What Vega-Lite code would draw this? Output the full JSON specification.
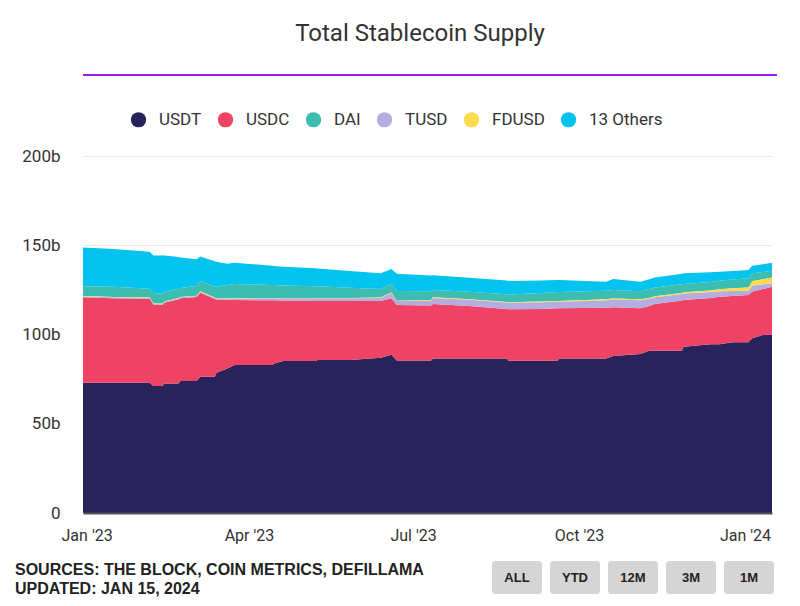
{
  "$schema": "https://vega.github.io/schema/vega-lite/v6.json",
  "padding": {"left": 15, "top": 22, "right": 0, "bottom": 0},
  "background": "white",
  "config": {"view": {"stroke": null}, "font": "Roboto"},
  "resolve": {"scale": {"color": "independent", "x": "independent"}, "legend": {"color": "independent"}},
  "vconcat": [
    {
      "width": 694,
      "height": 2,
      "view": {"fill": "#9a1bf0", "stroke": null},
      "data": {"values": [{"title": "Total Stablecoin Supply"}]},
      "mark": {"type": "text", "font": "Roboto", "fontSize": 24, "color": "#333333", "dx": -10, "dy": -41},
      "encoding": {"text": {"field": "title"}}
    },
    {
      "width": 689,
      "height": 357,
      "data": {"values": [
        {"date":"2022-12-30","coin":"USDT","supply":73.0},{"date":"2022-12-30","coin":"USDC","supply":47.8},{"date":"2022-12-30","coin":"DAI","supply":5.6},{"date":"2022-12-30","coin":"TUSD","supply":0.5},{"date":"2022-12-30","coin":"FDUSD","supply":0.2},{"date":"2022-12-30","coin":"13 Others","supply":21.7},
        {"date":"2023-01-16","coin":"USDT","supply":73.0},{"date":"2023-01-16","coin":"USDC","supply":47.3},{"date":"2023-01-16","coin":"DAI","supply":5.7},{"date":"2023-01-16","coin":"TUSD","supply":0.5},{"date":"2023-01-16","coin":"FDUSD","supply":0.2},{"date":"2023-01-16","coin":"13 Others","supply":21.2},
        {"date":"2023-02-05","coin":"USDT","supply":73.0},{"date":"2023-02-05","coin":"USDC","supply":47.0},{"date":"2023-02-05","coin":"DAI","supply":5.0},{"date":"2023-02-05","coin":"TUSD","supply":0.5},{"date":"2023-02-05","coin":"FDUSD","supply":0.2},{"date":"2023-02-05","coin":"13 Others","supply":20.7},
        {"date":"2023-02-07","coin":"USDT","supply":71.1},{"date":"2023-02-07","coin":"USDC","supply":45.7},{"date":"2023-02-07","coin":"DAI","supply":5.7},{"date":"2023-02-07","coin":"TUSD","supply":0.5},{"date":"2023-02-07","coin":"FDUSD","supply":0.2},{"date":"2023-02-07","coin":"13 Others","supply":21.1},
        {"date":"2023-02-12","coin":"USDT","supply":71.1},{"date":"2023-02-12","coin":"USDC","supply":45.4},{"date":"2023-02-12","coin":"DAI","supply":5.6},{"date":"2023-02-12","coin":"TUSD","supply":0.5},{"date":"2023-02-12","coin":"FDUSD","supply":0.2},{"date":"2023-02-12","coin":"13 Others","supply":21.4},
        {"date":"2023-02-13","coin":"USDT","supply":72.6},{"date":"2023-02-13","coin":"USDC","supply":45.2},{"date":"2023-02-13","coin":"DAI","supply":5.4},{"date":"2023-02-13","coin":"TUSD","supply":0.5},{"date":"2023-02-13","coin":"FDUSD","supply":0.2},{"date":"2023-02-13","coin":"13 Others","supply":20.4},
        {"date":"2023-02-21","coin":"USDT","supply":72.6},{"date":"2023-02-21","coin":"USDC","supply":47.2},{"date":"2023-02-21","coin":"DAI","supply":5.2},{"date":"2023-02-21","coin":"TUSD","supply":0.5},{"date":"2023-02-21","coin":"FDUSD","supply":0.2},{"date":"2023-02-21","coin":"13 Others","supply":17.7},
        {"date":"2023-02-22","coin":"USDT","supply":74.0},{"date":"2023-02-22","coin":"USDC","supply":46.3},{"date":"2023-02-22","coin":"DAI","supply":5.0},{"date":"2023-02-22","coin":"TUSD","supply":0.5},{"date":"2023-02-22","coin":"FDUSD","supply":0.2},{"date":"2023-02-22","coin":"13 Others","supply":17.1},
        {"date":"2023-03-03","coin":"USDT","supply":74.0},{"date":"2023-03-03","coin":"USDC","supply":47.0},{"date":"2023-03-03","coin":"DAI","supply":5.5},{"date":"2023-03-03","coin":"TUSD","supply":0.5},{"date":"2023-03-03","coin":"FDUSD","supply":0.2},{"date":"2023-03-03","coin":"13 Others","supply":15.0},
        {"date":"2023-03-05","coin":"USDT","supply":76.4},{"date":"2023-03-05","coin":"USDC","supply":47.0},{"date":"2023-03-05","coin":"DAI","supply":5.6},{"date":"2023-03-05","coin":"TUSD","supply":0.6},{"date":"2023-03-05","coin":"FDUSD","supply":0.2},{"date":"2023-03-05","coin":"13 Others","supply":13.9},
        {"date":"2023-03-13","coin":"USDT","supply":76.4},{"date":"2023-03-13","coin":"USDC","supply":43.6},{"date":"2023-03-13","coin":"DAI","supply":6.2},{"date":"2023-03-13","coin":"TUSD","supply":0.5},{"date":"2023-03-13","coin":"FDUSD","supply":0.2},{"date":"2023-03-13","coin":"13 Others","supply":14.1},
        {"date":"2023-03-14","coin":"USDT","supply":78.6},{"date":"2023-03-14","coin":"USDC","supply":40.9},{"date":"2023-03-14","coin":"DAI","supply":6.5},{"date":"2023-03-14","coin":"TUSD","supply":0.5},{"date":"2023-03-14","coin":"FDUSD","supply":0.2},{"date":"2023-03-14","coin":"13 Others","supply":14.1},
        {"date":"2023-03-20","coin":"USDT","supply":81.0},{"date":"2023-03-20","coin":"USDC","supply":38.4},{"date":"2023-03-20","coin":"DAI","supply":7.4},{"date":"2023-03-20","coin":"TUSD","supply":0.7},{"date":"2023-03-20","coin":"FDUSD","supply":0.2},{"date":"2023-03-20","coin":"13 Others","supply":11.9},
        {"date":"2023-03-24","coin":"USDT","supply":82.9},{"date":"2023-03-24","coin":"USDC","supply":36.4},{"date":"2023-03-24","coin":"DAI","supply":7.9},{"date":"2023-03-24","coin":"TUSD","supply":0.9},{"date":"2023-03-24","coin":"FDUSD","supply":0.2},{"date":"2023-03-24","coin":"13 Others","supply":11.9},
        {"date":"2023-04-14","coin":"USDT","supply":82.9},{"date":"2023-04-14","coin":"USDC","supply":36.3},{"date":"2023-04-14","coin":"DAI","supply":7.3},{"date":"2023-04-14","coin":"TUSD","supply":1.1},{"date":"2023-04-14","coin":"FDUSD","supply":0.2},{"date":"2023-04-14","coin":"13 Others","supply":10.7},
        {"date":"2023-04-15","coin":"USDT","supply":83.8},{"date":"2023-04-15","coin":"USDC","supply":35.4},{"date":"2023-04-15","coin":"DAI","supply":7.2},{"date":"2023-04-15","coin":"TUSD","supply":1.1},{"date":"2023-04-15","coin":"FDUSD","supply":0.2},{"date":"2023-04-15","coin":"13 Others","supply":10.7},
        {"date":"2023-04-20","coin":"USDT","supply":85.1},{"date":"2023-04-20","coin":"USDC","supply":34.0},{"date":"2023-04-20","coin":"DAI","supply":7.0},{"date":"2023-04-20","coin":"TUSD","supply":1.2},{"date":"2023-04-20","coin":"FDUSD","supply":0.2},{"date":"2023-04-20","coin":"13 Others","supply":10.5},
        {"date":"2023-05-08","coin":"USDT","supply":85.1},{"date":"2023-05-08","coin":"USDC","supply":33.7},{"date":"2023-05-08","coin":"DAI","supply":6.5},{"date":"2023-05-08","coin":"TUSD","supply":1.5},{"date":"2023-05-08","coin":"FDUSD","supply":0.2},{"date":"2023-05-08","coin":"13 Others","supply":10.1},
        {"date":"2023-05-09","coin":"USDT","supply":85.7},{"date":"2023-05-09","coin":"USDC","supply":33.1},{"date":"2023-05-09","coin":"DAI","supply":6.5},{"date":"2023-05-09","coin":"TUSD","supply":1.5},{"date":"2023-05-09","coin":"FDUSD","supply":0.2},{"date":"2023-05-09","coin":"13 Others","supply":10.0},
        {"date":"2023-05-27","coin":"USDT","supply":85.7},{"date":"2023-05-27","coin":"USDC","supply":33.1},{"date":"2023-05-27","coin":"DAI","supply":5.7},{"date":"2023-05-27","coin":"TUSD","supply":1.5},{"date":"2023-05-27","coin":"FDUSD","supply":0.2},{"date":"2023-05-27","coin":"13 Others","supply":9.4},
        {"date":"2023-06-13","coin":"USDT","supply":87.0},{"date":"2023-06-13","coin":"USDC","supply":31.8},{"date":"2023-06-13","coin":"DAI","supply":4.8},{"date":"2023-06-13","coin":"TUSD","supply":1.7},{"date":"2023-06-13","coin":"FDUSD","supply":0.2},{"date":"2023-06-13","coin":"13 Others","supply":8.8},
        {"date":"2023-06-19","coin":"USDT","supply":88.7},{"date":"2023-06-19","coin":"USDC","supply":31.6},{"date":"2023-06-19","coin":"DAI","supply":5.0},{"date":"2023-06-19","coin":"TUSD","supply":3.0},{"date":"2023-06-19","coin":"FDUSD","supply":0.2},{"date":"2023-06-19","coin":"13 Others","supply":8.2},
        {"date":"2023-06-22","coin":"USDT","supply":85.5},{"date":"2023-06-22","coin":"USDC","supply":31.0},{"date":"2023-06-22","coin":"DAI","supply":5.5},{"date":"2023-06-22","coin":"TUSD","supply":2.2},{"date":"2023-06-22","coin":"FDUSD","supply":0.2},{"date":"2023-06-22","coin":"13 Others","supply":9.6},
        {"date":"2023-07-11","coin":"USDT","supply":85.5},{"date":"2023-07-11","coin":"USDC","supply":30.8},{"date":"2023-07-11","coin":"DAI","supply":5.0},{"date":"2023-07-11","coin":"TUSD","supply":2.7},{"date":"2023-07-11","coin":"FDUSD","supply":0.3},{"date":"2023-07-11","coin":"13 Others","supply":8.7},
        {"date":"2023-07-12","coin":"USDT","supply":86.6},{"date":"2023-07-12","coin":"USDC","supply":30.5},{"date":"2023-07-12","coin":"DAI","supply":4.1},{"date":"2023-07-12","coin":"TUSD","supply":3.4},{"date":"2023-07-12","coin":"FDUSD","supply":0.3},{"date":"2023-07-12","coin":"13 Others","supply":8.3},
        {"date":"2023-08-01","coin":"USDT","supply":86.6},{"date":"2023-08-01","coin":"USDC","supply":29.4},{"date":"2023-08-01","coin":"DAI","supply":4.2},{"date":"2023-08-01","coin":"TUSD","supply":3.4},{"date":"2023-08-01","coin":"FDUSD","supply":0.3},{"date":"2023-08-01","coin":"13 Others","supply":7.9},
        {"date":"2023-08-22","coin":"USDT","supply":86.6},{"date":"2023-08-22","coin":"USDC","supply":27.7},{"date":"2023-08-22","coin":"DAI","supply":4.3},{"date":"2023-08-22","coin":"TUSD","supply":3.6},{"date":"2023-08-22","coin":"FDUSD","supply":0.3},{"date":"2023-08-22","coin":"13 Others","supply":7.7},
        {"date":"2023-08-23","coin":"USDT","supply":85.3},{"date":"2023-08-23","coin":"USDC","supply":28.8},{"date":"2023-08-23","coin":"DAI","supply":4.3},{"date":"2023-08-23","coin":"TUSD","supply":3.7},{"date":"2023-08-23","coin":"FDUSD","supply":0.3},{"date":"2023-08-23","coin":"13 Others","supply":7.6},
        {"date":"2023-09-10","coin":"USDT","supply":85.3},{"date":"2023-09-10","coin":"USDC","supply":29.0},{"date":"2023-09-10","coin":"DAI","supply":4.7},{"date":"2023-09-10","coin":"TUSD","supply":3.8},{"date":"2023-09-10","coin":"FDUSD","supply":0.4},{"date":"2023-09-10","coin":"13 Others","supply":7.1},
        {"date":"2023-09-19","coin":"USDT","supply":85.3},{"date":"2023-09-19","coin":"USDC","supply":29.4},{"date":"2023-09-19","coin":"DAI","supply":5.0},{"date":"2023-09-19","coin":"TUSD","supply":3.7},{"date":"2023-09-19","coin":"FDUSD","supply":0.4},{"date":"2023-09-19","coin":"13 Others","supply":6.7},
        {"date":"2023-09-20","coin":"USDT","supply":86.6},{"date":"2023-09-20","coin":"USDC","supply":28.1},{"date":"2023-09-20","coin":"DAI","supply":5.0},{"date":"2023-09-20","coin":"TUSD","supply":3.7},{"date":"2023-09-20","coin":"FDUSD","supply":0.4},{"date":"2023-09-20","coin":"13 Others","supply":6.7},
        {"date":"2023-10-16","coin":"USDT","supply":86.6},{"date":"2023-10-16","coin":"USDC","supply":28.4},{"date":"2023-10-16","coin":"DAI","supply":4.8},{"date":"2023-10-16","coin":"TUSD","supply":4.2},{"date":"2023-10-16","coin":"FDUSD","supply":0.5},{"date":"2023-10-16","coin":"13 Others","supply":5.1},
        {"date":"2023-10-20","coin":"USDT","supply":88.0},{"date":"2023-10-20","coin":"USDC","supply":27.2},{"date":"2023-10-20","coin":"DAI","supply":4.7},{"date":"2023-10-20","coin":"TUSD","supply":4.5},{"date":"2023-10-20","coin":"FDUSD","supply":0.5},{"date":"2023-10-20","coin":"13 Others","supply":6.2},
        {"date":"2023-11-04","coin":"USDT","supply":89.1},{"date":"2023-11-04","coin":"USDC","supply":25.6},{"date":"2023-11-04","coin":"DAI","supply":4.6},{"date":"2023-11-04","coin":"TUSD","supply":4.5},{"date":"2023-11-04","coin":"FDUSD","supply":0.5},{"date":"2023-11-04","coin":"13 Others","supply":5.3},
        {"date":"2023-11-09","coin":"USDT","supply":90.9},{"date":"2023-11-09","coin":"USDC","supply":25.1},{"date":"2023-11-09","coin":"DAI","supply":5.0},{"date":"2023-11-09","coin":"TUSD","supply":4.0},{"date":"2023-11-09","coin":"FDUSD","supply":0.5},{"date":"2023-11-09","coin":"13 Others","supply":5.5},
        {"date":"2023-11-12","coin":"USDT","supply":90.9},{"date":"2023-11-12","coin":"USDC","supply":26.2},{"date":"2023-11-12","coin":"DAI","supply":5.0},{"date":"2023-11-12","coin":"TUSD","supply":3.8},{"date":"2023-11-12","coin":"FDUSD","supply":0.5},{"date":"2023-11-12","coin":"13 Others","supply":5.6},
        {"date":"2023-11-27","coin":"USDT","supply":90.9},{"date":"2023-11-27","coin":"USDC","supply":28.1},{"date":"2023-11-27","coin":"DAI","supply":4.8},{"date":"2023-11-27","coin":"TUSD","supply":3.7},{"date":"2023-11-27","coin":"FDUSD","supply":0.6},{"date":"2023-11-27","coin":"13 Others","supply":5.9},
        {"date":"2023-11-28","coin":"USDT","supply":93.2},{"date":"2023-11-28","coin":"USDC","supply":26.1},{"date":"2023-11-28","coin":"DAI","supply":4.7},{"date":"2023-11-28","coin":"TUSD","supply":3.7},{"date":"2023-11-28","coin":"FDUSD","supply":0.6},{"date":"2023-11-28","coin":"13 Others","supply":6.0},
        {"date":"2023-12-13","coin":"USDT","supply":94.5},{"date":"2023-12-13","coin":"USDC","supply":26.0},{"date":"2023-12-13","coin":"DAI","supply":4.7},{"date":"2023-12-13","coin":"TUSD","supply":3.3},{"date":"2023-12-13","coin":"FDUSD","supply":0.9},{"date":"2023-12-13","coin":"13 Others","supply":5.5},
        {"date":"2023-12-18","coin":"USDT","supply":94.5},{"date":"2023-12-18","coin":"USDC","supply":26.7},{"date":"2023-12-18","coin":"DAI","supply":4.7},{"date":"2023-12-18","coin":"TUSD","supply":3.1},{"date":"2023-12-18","coin":"FDUSD","supply":1.1},{"date":"2023-12-18","coin":"13 Others","supply":5.1},
        {"date":"2023-12-25","coin":"USDT","supply":95.6},{"date":"2023-12-25","coin":"USDC","supply":26.0},{"date":"2023-12-25","coin":"DAI","supply":4.9},{"date":"2023-12-25","coin":"TUSD","supply":2.8},{"date":"2023-12-25","coin":"FDUSD","supply":1.5},{"date":"2023-12-25","coin":"13 Others","supply":4.8},
        {"date":"2024-01-03","coin":"USDT","supply":95.6},{"date":"2024-01-03","coin":"USDC","supply":26.5},{"date":"2024-01-03","coin":"DAI","supply":5.1},{"date":"2024-01-03","coin":"TUSD","supply":2.4},{"date":"2024-01-03","coin":"FDUSD","supply":1.9},{"date":"2024-01-03","coin":"13 Others","supply":4.6},
        {"date":"2024-01-05","coin":"USDT","supply":97.9},{"date":"2024-01-05","coin":"USDC","supply":26.1},{"date":"2024-01-05","coin":"DAI","supply":4.5},{"date":"2024-01-05","coin":"TUSD","supply":3.3},{"date":"2024-01-05","coin":"FDUSD","supply":2.5},{"date":"2024-01-05","coin":"13 Others","supply":4.2},
        {"date":"2024-01-11","coin":"USDT","supply":99.7},{"date":"2024-01-11","coin":"USDC","supply":25.8},{"date":"2024-01-11","coin":"DAI","supply":4.0},{"date":"2024-01-11","coin":"TUSD","supply":2.6},{"date":"2024-01-11","coin":"FDUSD","supply":2.9},{"date":"2024-01-11","coin":"13 Others","supply":4.3},
        {"date":"2024-01-16","coin":"USDT","supply":100.0},{"date":"2024-01-16","coin":"USDC","supply":26.8},{"date":"2024-01-16","coin":"DAI","supply":3.7},{"date":"2024-01-16","coin":"TUSD","supply":1.9},{"date":"2024-01-16","coin":"FDUSD","supply":3.3},{"date":"2024-01-16","coin":"13 Others","supply":4.5}
      ]},
      "mark": {"type": "area", "interpolate": "linear", "opacity": 1},
      "encoding": {
        "x": {
          "field": "date", "type": "temporal",
          "scale": {"type": "utc", "domain": [{"year": 2022, "month": 12, "date": 30, "utc": true}, {"year": 2024, "month": 1, "date": 16, "utc": true}]},
          "axis": {"title": null, "format": "%b '%y", "tickCount": {"interval": "month", "step": 3}, "labelFlush": false, "labelOverlap": false, "grid": false, "ticks": false, "domainColor": "#555555", "domainWidth": 2, "labelFont": "Roboto", "labelFontSize": 16, "labelColor": "#333333", "labelPadding": 14, "zindex": 1}
        },
        "y": {
          "field": "supply", "type": "quantitative", "stack": "zero",
          "scale": {"domain": [0, 200], "nice": false},
          "axis": {"title": null, "values": [0, 50, 100, 150, 200], "labelExpr": "datum.value == 0 ? '0' : datum.value + 'b'", "domain": false, "ticks": false, "grid": true, "gridColor": "#e8e8e8", "labelFont": "Roboto", "labelFontSize": 17, "labelColor": "#333333", "labelPadding": 23}
        },
        "color": {
          "field": "coin", "type": "nominal",
          "sort": ["USDT", "USDC", "DAI", "TUSD", "FDUSD", "13 Others"],
          "scale": {"domain": ["USDT", "USDC", "DAI", "TUSD", "FDUSD", "13 Others"], "range": ["#29235c", "#ef4366", "#3dbdb0", "#b5ade0", "#fcdc4d", "#04c3ef"]},
          "legend": {"title": null, "orient": "none", "direction": "horizontal", "legendX": 30, "legendY": -62, "padding": 17, "symbolType": "circle", "symbolSize": 232, "symbolStrokeWidth": 0, "symbolOpacity": 1, "labelFont": "Roboto", "labelFontSize": 17, "labelColor": "#333333", "labelOffset": 12, "columnPadding": 15}
        }
      }
    },
    {
      "hconcat": [
        {
          "width": 1,
          "height": 38,
          "data": {"values": [{"line": "SOURCES: THE BLOCK, COIN METRICS, DEFILLAMA"}, {"line": "UPDATED: JAN 15, 2024"}]},
          "mark": {"type": "text", "align": "left", "dx": -68.5, "dy": -0.5, "font": "Liberation Sans", "fontWeight": "bold", "fontSize": 16, "color": "#222222"},
          "encoding": {
            "y": {"field": "line", "type": "nominal", "sort": null, "axis": null},
            "text": {"field": "line"}
          }
        },
        {
          "width": 282,
          "height": 33,
          "data": {"values": [{"range": "ALL"}, {"range": "YTD"}, {"range": "12M"}, {"range": "3M"}, {"range": "1M"}]},
          "encoding": {"x": {"field": "range", "type": "nominal", "sort": null, "scale": {"paddingInner": 0.138, "paddingOuter": 0}, "axis": null}},
          "layer": [
            {"mark": {"type": "bar", "color": "#d5d5d5", "cornerRadius": 3}},
            {"mark": {"type": "text", "font": "Liberation Sans", "fontWeight": "bold", "fontSize": 13, "color": "#222222"}, "encoding": {"text": {"field": "range"}}}
          ]
        }
      ],
      "spacing": 68
    }
  ],
  "spacing": 18
}
